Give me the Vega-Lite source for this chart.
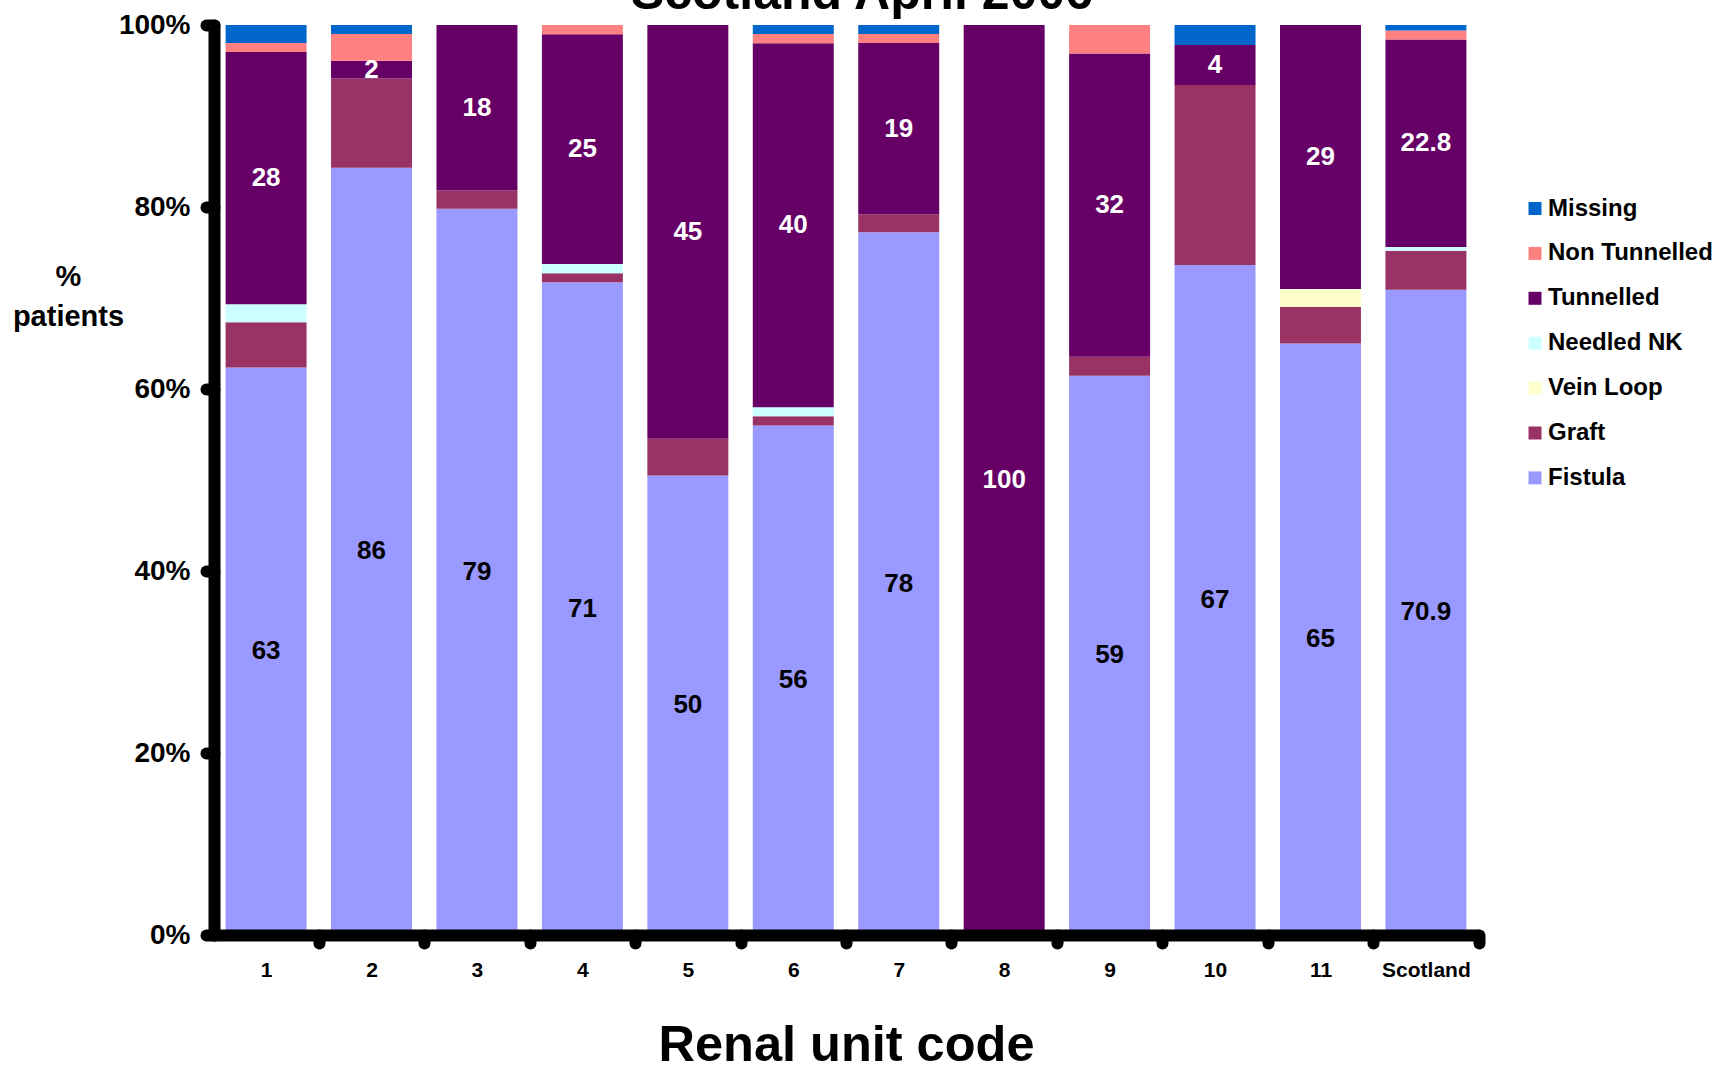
{
  "$schema": "https://vega.github.io/schema/vega-lite/v6.json",
  "autosize": "none",
  "width": 1264,
  "height": 910,
  "padding": {"left": 214, "top": 25, "right": 243, "bottom": 130},
  "background": "white",
  "config": {
    "font": "Liberation Sans",
    "view": {"stroke": null},
    "axis": {"grid": false, "labelColor": "black", "titleColor": "black", "domainColor": "black", "tickColor": "black", "labelFontWeight": "bold", "titleFontWeight": "bold"},
    "legend": {"labelColor": "black"}
  },
  "title": {"text": "Scotland April 2006", "fontSize": 50, "fontWeight": "bold", "color": "black", "frame": "group", "anchor": "middle", "baseline": "alphabetic", "offset": -48, "dx": 16},
  "datasets": {
    "types": [
      {"type": "Fistula", "rank": 1},
      {"type": "Graft", "rank": 2},
      {"type": "Vein Loop", "rank": 3},
      {"type": "Needled NK", "rank": 4},
      {"type": "Tunnelled", "rank": 5},
      {"type": "Non Tunnelled", "rank": 6},
      {"type": "Missing", "rank": 7}
    ],
    "access": [
      {"unit": "1", "type": "Fistula", "value": 63},
      {"unit": "1", "type": "Graft", "value": 5},
      {"unit": "1", "type": "Needled NK", "value": 2},
      {"unit": "1", "type": "Tunnelled", "value": 28},
      {"unit": "1", "type": "Non Tunnelled", "value": 1},
      {"unit": "1", "type": "Missing", "value": 2},
      {"unit": "2", "type": "Fistula", "value": 86},
      {"unit": "2", "type": "Graft", "value": 10},
      {"unit": "2", "type": "Tunnelled", "value": 2},
      {"unit": "2", "type": "Non Tunnelled", "value": 3},
      {"unit": "2", "type": "Missing", "value": 1},
      {"unit": "3", "type": "Fistula", "value": 79},
      {"unit": "3", "type": "Graft", "value": 2},
      {"unit": "3", "type": "Tunnelled", "value": 18},
      {"unit": "4", "type": "Fistula", "value": 71},
      {"unit": "4", "type": "Graft", "value": 1},
      {"unit": "4", "type": "Needled NK", "value": 1},
      {"unit": "4", "type": "Tunnelled", "value": 25},
      {"unit": "4", "type": "Non Tunnelled", "value": 1},
      {"unit": "5", "type": "Fistula", "value": 50},
      {"unit": "5", "type": "Graft", "value": 4},
      {"unit": "5", "type": "Tunnelled", "value": 45},
      {"unit": "6", "type": "Fistula", "value": 56},
      {"unit": "6", "type": "Graft", "value": 1},
      {"unit": "6", "type": "Needled NK", "value": 1},
      {"unit": "6", "type": "Tunnelled", "value": 40},
      {"unit": "6", "type": "Non Tunnelled", "value": 1},
      {"unit": "6", "type": "Missing", "value": 1},
      {"unit": "7", "type": "Fistula", "value": 78},
      {"unit": "7", "type": "Graft", "value": 2},
      {"unit": "7", "type": "Tunnelled", "value": 19},
      {"unit": "7", "type": "Non Tunnelled", "value": 1},
      {"unit": "7", "type": "Missing", "value": 1},
      {"unit": "8", "type": "Tunnelled", "value": 100},
      {"unit": "9", "type": "Fistula", "value": 59},
      {"unit": "9", "type": "Graft", "value": 2},
      {"unit": "9", "type": "Tunnelled", "value": 32},
      {"unit": "9", "type": "Non Tunnelled", "value": 3},
      {"unit": "10", "type": "Fistula", "value": 67},
      {"unit": "10", "type": "Graft", "value": 18},
      {"unit": "10", "type": "Tunnelled", "value": 4},
      {"unit": "10", "type": "Missing", "value": 2},
      {"unit": "11", "type": "Fistula", "value": 65},
      {"unit": "11", "type": "Graft", "value": 4},
      {"unit": "11", "type": "Vein Loop", "value": 2},
      {"unit": "11", "type": "Tunnelled", "value": 29},
      {"unit": "Scotland", "type": "Fistula", "value": 70.9},
      {"unit": "Scotland", "type": "Graft", "value": 4.3},
      {"unit": "Scotland", "type": "Needled NK", "value": 0.4},
      {"unit": "Scotland", "type": "Tunnelled", "value": 22.8},
      {"unit": "Scotland", "type": "Non Tunnelled", "value": 1.0},
      {"unit": "Scotland", "type": "Missing", "value": 0.6}
    ]
  },
  "data": {"name": "access"},
  "transform": [
    {"lookup": "type", "from": {"data": {"name": "types"}, "key": "type", "fields": ["rank"]}},
    {"stack": "value", "groupby": ["unit"], "sort": [{"field": "rank", "order": "ascending"}], "offset": "normalize", "as": ["y0", "y1"]}
  ],
  "layer": [
    {
      "mark": {"type": "bar"},
      "encoding": {
        "x": {
          "field": "unit", "type": "nominal",
          "sort": ["1", "2", "3", "4", "5", "6", "7", "8", "9", "10", "11", "Scotland"],
          "scale": {"paddingInner": 0.232, "paddingOuter": 0.11},
          "axis": {
            "title": "Renal unit code", "titleFontSize": 50.5, "titleY": 125, "titleBaseline": "alphabetic",
            "labelAngle": 0, "labelFontSize": 21, "labelPadding": 16, "labelOffset": -12.2,
            "bandPosition": 1, "tickOffset": 12.2, "tickSize": 8, "tickWidth": 12, "tickCap": "round",
            "domainWidth": 12, "domainCap": "round", "zindex": 1
          }
        },
        "y": {
          "field": "y0", "type": "quantitative",
          "scale": {"domain": [0, 1], "nice": false},
          "title": ["%", "patients"],
          "axis": {
            "titleAngle": 0, "titleFontSize": 29, "titleX": -146, "titleY": 260,
            "titleAlign": "center", "titleBaseline": "alphabetic", "titleLineHeight": 40,
            "format": ".0%", "values": [0, 0.2, 0.4, 0.6, 0.8, 1], "labelFontSize": 28, "labelPadding": 16,
            "tickSize": 8, "tickWidth": 12, "tickCap": "round", "domainWidth": 12, "domainCap": "round", "zindex": 1
          }
        },
        "y2": {"field": "y1"},
        "color": {
          "field": "type", "type": "nominal",
          "scale": {
            "domain": ["Missing", "Non Tunnelled", "Tunnelled", "Needled NK", "Vein Loop", "Graft", "Fistula"],
            "range": ["#0066CC", "#FF8080", "#660066", "#CCFFFF", "#FFFFCC", "#993366", "#9999FF"]
          },
          "legend": {
            "orient": "none", "legendX": 1309, "legendY": 171.5, "title": null,
            "symbolType": "square", "symbolSize": 169, "symbolStrokeWidth": 0,
            "labelFontSize": 24, "labelFontWeight": "bold", "labelOffset": 1, "labelLimit": 400,
            "rowPadding": 20.9, "padding": 0
          }
        }
      }
    },
    {
      "transform": [
        {"filter": {"field": "type", "oneOf": ["Fistula", "Tunnelled"]}},
        {"fold": ["y0", "y1"], "as": ["k", "v"]},
        {"aggregate": [{"op": "mean", "field": "v", "as": "mid"}], "groupby": ["unit", "type", "value"]}
      ],
      "mark": {"type": "text", "fontSize": 26, "fontWeight": "bold", "align": "center", "baseline": "middle"},
      "encoding": {
        "x": {"field": "unit", "type": "nominal", "sort": ["1", "2", "3", "4", "5", "6", "7", "8", "9", "10", "11", "Scotland"]},
        "y": {"field": "mid", "type": "quantitative", "title": ["%", "patients"]},
        "text": {"field": "value", "type": "nominal"},
        "color": {"condition": {"test": "datum.type === 'Fistula'", "value": "black"}, "value": "white"}
      }
    }
  ]
}
